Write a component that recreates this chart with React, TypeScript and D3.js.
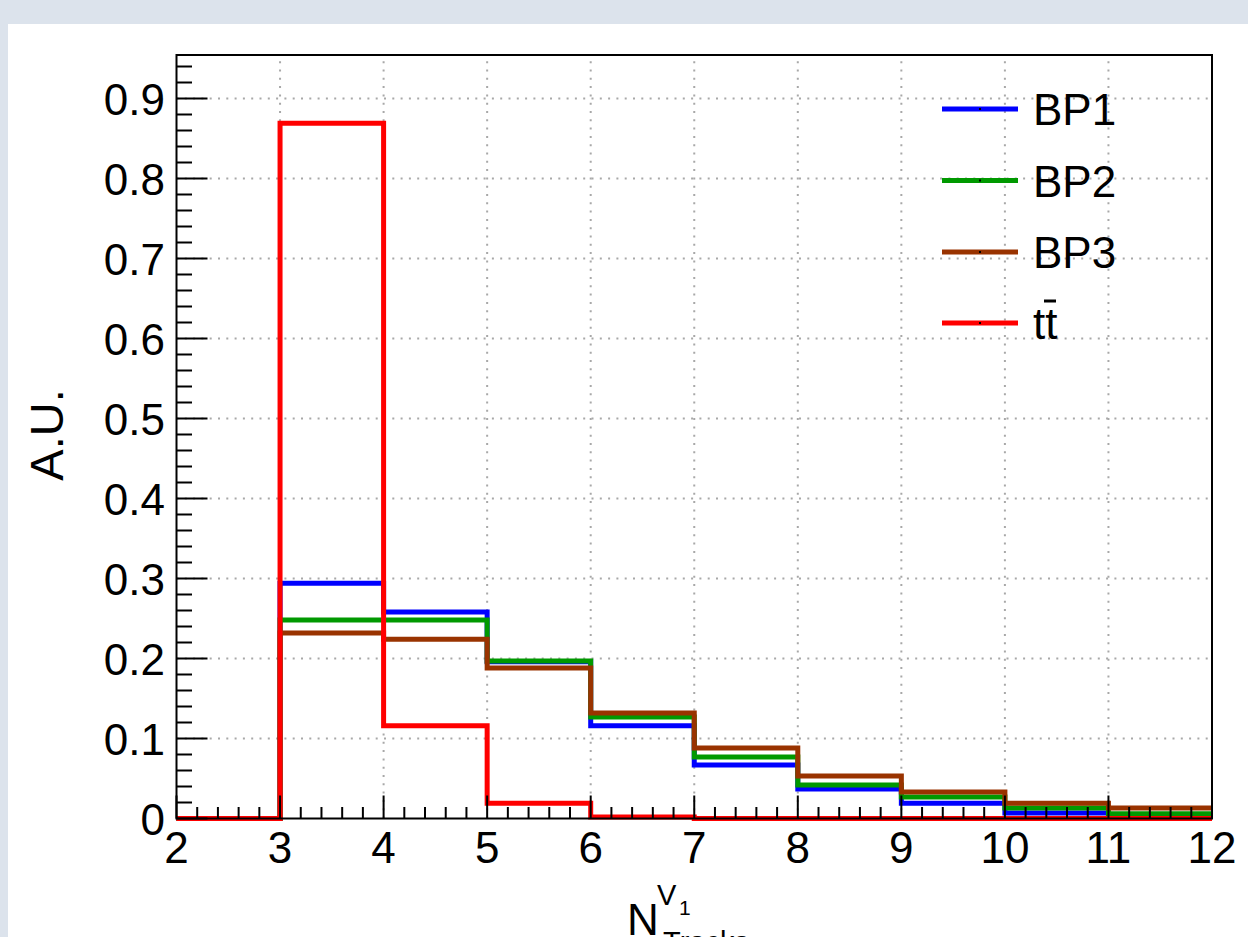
import React from 'react';
import * as d3 from 'd3';

// bin low edges (last entry = upper edge of last bin)
const EDGES = [2, 3, 4, 5, 6, 7, 8, 9, 10, 11, 12];
const BP1 = [0, 0.294, 0.258, 0.196, 0.116, 0.067, 0.037, 0.019, 0.007, 0.003];
const BP2 = [0, 0.248, 0.248, 0.197, 0.127, 0.077, 0.042, 0.027, 0.013, 0.006];
const BP3 = [0, 0.232, 0.224, 0.188, 0.132, 0.088, 0.053, 0.033, 0.019, 0.013];
const TTBAR = [0, 0.869, 0.116, 0.019, 0.002, 0, 0, 0, 0, 0];

const SERIES = [
  { name: 'BP1', values: BP1, color: '#0000ff' },
  { name: 'BP2', values: BP2, color: '#009900' },
  { name: 'BP3', values: BP3, color: '#993300' },
  { name: 'tt', values: TTBAR, color: '#ff0000' },
];

const X_TICKS = [2, 3, 4, 5, 6, 7, 8, 9, 10, 11, 12];
const Y_TICKS = [0, 0.1, 0.2, 0.3, 0.4, 0.5, 0.6, 0.7, 0.8, 0.9];

const W = 1248;
const H = 937;
const FONT = '"Liberation Sans", Arial, sans-serif';

export default function App() {
  const left = 176.5, right = 1212, top = 55, bottom = 818.5;
  const x = d3.scaleLinear().domain([2, 12]).range([left, right]);
  const y = d3.scaleLinear().domain([0, (bottom - top) / 800]).range([bottom, top]);

  const xMinor = d3.range(2, 12.001, 0.2).filter(v => Math.abs(v - Math.round(v)) > 1e-6);
  const yMinor = d3.range(0, y.domain()[1], 0.02).filter(v => Math.abs(v * 10 - Math.round(v * 10)) > 1e-6);

  const line = d3.line<[number, number]>()
    .x(d => x(d[0]))
    .y(d => y(d[1]))
    .curve(d3.curveStepAfter);

  const pathFor = (vals: number[]) => {
    const pts: [number, number][] = vals.map((v, i) => [EDGES[i], v]);
    pts.push([EDGES[EDGES.length - 1], vals[vals.length - 1]]);
    return line(pts) || '';
  };

  const legendY = [109, 180.5, 252, 323];

  return (
    <>
      <style>{`body{margin:0;background:#dce3ec;}`}</style>
      <svg width={W} height={H} style={{ display: 'block' }} fontFamily={FONT}>
        <rect x={0} y={0} width={W} height={H} fill="#dce3ec" />
        <rect x={8} y={24} width={W - 8} height={H - 24} fill="#ffffff" />

        {/* grid */}
        <g stroke="#a8a8a8" strokeWidth={2} strokeDasharray="2 6.3">
          {X_TICKS.slice(1, -1).map(t => (
            <line key={'gx' + t} x1={x(t)} x2={x(t)} y1={bottom} y2={top} />
          ))}
          {Y_TICKS.slice(1).map(t => (
            <line key={'gy' + t} x1={left} x2={right} y1={y(t)} y2={y(t)} />
          ))}
        </g>

        {/* histograms */}
        {SERIES.map(s => (
          <path key={s.name} d={pathFor(s.values)} fill="none" stroke={s.color} strokeWidth={5} strokeLinejoin="miter" />
        ))}

        {/* frame */}
        <rect x={left} y={top} width={right - left} height={bottom - top} fill="none" stroke="#000" strokeWidth={2} />

        {/* ticks */}
        <g stroke="#000" strokeWidth={2}>
          {X_TICKS.map(t => (
            <line key={'xt' + t} x1={x(t)} x2={x(t)} y1={bottom} y2={bottom - 23} />
          ))}
          {xMinor.map(t => (
            <line key={'xm' + t} x1={x(t)} x2={x(t)} y1={bottom} y2={bottom - 11.5} />
          ))}
          {Y_TICKS.map(t => (
            <line key={'yt' + t} x1={left} x2={left + 31} y1={y(t)} y2={y(t)} />
          ))}
          {yMinor.map(t => (
            <line key={'ym' + t} x1={left} x2={left + 15.5} y1={y(t)} y2={y(t)} />
          ))}
        </g>

        {/* tick labels */}
        <g fontSize={44} fill="#000">
          {X_TICKS.map(t => (
            <text key={'xl' + t} x={x(t)} y={863} textAnchor="middle">{t}</text>
          ))}
          {Y_TICKS.map(t => (
            <text key={'yl' + t} x={165} y={y(t) + 16} textAnchor="end">{t === 0 ? '0' : t.toFixed(1)}</text>
          ))}
        </g>

        {/* axis titles */}
        <text transform="translate(63,435) rotate(-90)" textAnchor="middle" fontSize={47} fill="#000">A.U.</text>
        <g fill="#000">
          <text x={627} y={934.5} fontSize={44}>N</text>
          <text x={657} y={905} fontSize={29}>V</text>
          <text x={679} y={915} fontSize={21}>1</text>
          <text x={663} y={952} fontSize={29}>Tracks</text>
        </g>

        {/* legend */}
        {SERIES.map((s, i) => (
          <g key={'lg' + s.name}>
            <line x1={942} x2={1018} y1={legendY[i]} y2={legendY[i]} stroke={s.color} strokeWidth={5} />
            <rect x={979} y={legendY[i] - 1} width={2} height={2} fill="#000" />
            {s.name === 'tt' ? (
              <g>
                <text x={1033} y={legendY[i] + 16} fontSize={44} fill="#000">tt</text>
                <line x1={1044} x2={1056} y1={legendY[i] - 22} y2={legendY[i] - 22} stroke="#000" strokeWidth={3} />
              </g>
            ) : (
              <text x={1033} y={legendY[i] + 16} fontSize={44} fill="#000">{s.name}</text>
            )}
          </g>
        ))}
      </svg>
    </>
  );
}
